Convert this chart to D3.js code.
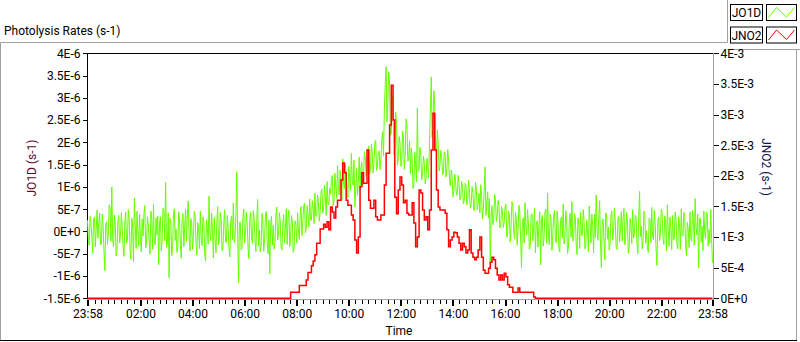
<!DOCTYPE html>
<html>
<head>
<meta charset="utf-8">
<script src="https://cdn.jsdelivr.net/npm/d3@7"></script>
<style>
body { margin: 0; background: #fff; }
svg text { font-family: Roboto, "Noto Sans", sans-serif; font-size: 12px; }
</style>
</head>
<body>
<div id="chart"></div>
<script>
// both series start at 23:58 and run to 23:58 the next day
var startTime = "23:58";
var jo1dStepMinutes = 2;
var jno2StepMinutes = 4;

// JO1D in units of 1E-7 s-1, one value every 2 minutes
var jo1d = [
	2.5,-2.0, -3.1,3.4, 1.8,-1.2, -4.9,2.7, 3.2,-3.5, 0.4,4.8, -1.5,2.1, 4.1,-3.0, -2.8,3.9, 1.0,-4.4, -8.8,1.6, 2.2,-2.9, -0.6,6.0, 5.3,-2.2, 10.0,-1.8, -3.4,3.7, 1.7,-5.5, -4.2,2.3, 3.6,-2.6, -1.1,4.2,
	0.9,-3.6, -5.6,2.2, 4.4,-2.7, -2.0,4.9, 2.9,-4.1, -6.3,3.0, 1.2,-6.8, 7.5,1.4, -3.8,4.5, 0.2,-3.2, 3.9,-1.5, -4.6,2.8, -1.0,4.0, 5.8,-3.7, -2.5,3.3, 1.5,-1.9, -5.1,4.6, 2.6,-4.0, 6.2,-2.4, -3.0,3.1,
	-0.8,3.5, -7.5,1.9, 3.3,-4.3, -1.9,5.2, 4.7,-2.1, 11.0,-3.6, -2.6,4.2, -10.4,3.0, 2.0,-5.4, -4.0,3.8, 5.1,-2.0, 0.6,-4.7, -3.5,4.4, 2.8,-3.1, -6.0,2.5, 4.0,-3.4, 1.3,5.0, -2.2,3.7, 6.8,-1.0, -4.4,2.9,
	1.9,-4.0, -1.2,4.5, 3.7,-2.5, -5.3,2.0, 0.5,-3.8, 4.6,-1.4, -3.2,3.3, 2.4,-4.9, -6.7,2.6, 1.1,-2.8, 7.9,-0.5, -2.1,4.1, 0.0,-5.9, 3.1,-1.7, -4.8,2.2, 5.6,-3.0, -1.6,4.3, 2.7,-4.4, -3.9,1.8, 4.9,-2.3,
	-2.4,3.6, 0.8,-3.9, -5.7,2.4, 3.5,-1.8, 6.4,-2.5, -1.3,4.0, 13.4,-0.6, -11.5,1.9, 2.1,-4.1, -3.6,3.2, 5.0,-2.6, -0.4,4.4, 1.6,-3.7, -6.1,2.8, 4.3,-1.2, -2.7,4.7, 3.0,-2.0, -4.5,2.5, 7.2,-3.3, 0.3,-4.6,
	-3.3,4.1, 2.3,-4.4, -1.7,3.9, 4.5,-2.2, -5.0,2.6, -9.5,1.5, 3.4,-3.1, 1.4,-4.0, -2.3,3.7, 5.5,-1.9, -0.9,4.2, 2.6,-3.5, -4.1,1.8, 3.8,-2.6, 0.7,5.1, -2.9,2.9, 4.8,-3.4, -1.4,3.6, 2.0,-4.7, -3.7,2.4,
	1.5,-2.6, 4.2,0.2, -1.8,3.9, 5.6,-0.9, 2.1,5.5, 6.4,-0.3, 0.8,5.8, 3.9,1.0, 7.3,2.6, 2.5,6.9, 5.1,1.8, 8.6,3.5, 3.4,8.2, 6.7,2.3, 4.2,8.9, 9.5,4.1, 5.0,10.3, 7.8,3.6, 11.2,6.4, 6.0,9.8,
	8.4,11.9, 12.6,5.8, 6.9,13.1, 10.3,7.4, 14.8,9.6, 8.2,13.8, 11.5,7.0, 16.3,10.9, 9.7,15.1, 13.0,8.3, 7.6,14.6, 12.1,9.2, 17.5,11.6, 10.4,16.0, 5.5,9.5, 14.2,8.1, 11.0,16.7, 9.8,14.4, 15.6,10.2, 12.3,17.9,
	16.8,12.4, 13.5,18.3, 19.2,12.8, 14.0,19.6, 17.6,13.1, 15.2,19.9, 20.5,13.7, 14.6,17.8, 18.1,13.9, 16.0,20.7, 22.4,17.0, 27.5,33.0, 37.0,24.6, 29.0,35.8, 33.5,21.5, 22.0,30.5, 28.4,17.2, 19.5,26.8, 24.0,14.9, 16.5,21.3,
	19.8,14.6, 15.2,22.5, 21.0,13.9, 17.4,25.3, 24.0,15.8, 16.1,20.4, 13.0,18.7, 16.5,9.6, 10.5,17.8, 15.0,11.2, 27.7,13.5, 14.0,18.9, 17.2,11.6, 12.8,16.9, 15.5,10.7, 11.9,16.4, 14.3,12.0, 20.0,27.3, 34.7,21.1, 24.0,31.6,
	28.5,19.4, 17.0,22.8, 19.5,13.6, 14.8,18.2, 16.9,12.7, 13.2,17.9, 17.6,12.2, 14.1,18.4, 15.8,11.9, 10.2,13.8, 12.5,7.7, 9.0,12.9, 11.4,8.1, 8.3,12.6, 10.9,7.1, 7.6,11.3, 9.8,6.2, 6.9,10.8, 10.4,6.0, 7.2,11.5,
	9.1,5.2, 6.0,10.1, 8.8,4.7, 5.4,11.0, 9.5,4.9, 6.3,8.6, 4.2,10.5, 8.0,2.8, 5.1,9.2, 14.5,3.6, 6.6,8.9, 3.0,7.4, -8.0,3.9, 5.8,1.5, 2.9,8.3, 7.1,2.2, 3.5,7.0, 5.9,0.8, 1.2,5.6, 4.6,0.9,
	2.0,5.5, 6.2,-1.3, -0.5,4.6, 3.7,-2.4, 1.4,6.7, 5.8,0.1, -1.6,4.3, 2.9,-3.1, 0.3,5.9, 4.4,-1.9, -8.2,2.0, 3.1,-2.6, 6.5,1.1, -0.8,4.9, 1.8,-4.0, -3.4,3.6, 4.0,-2.1, 0.6,5.2, -4.8,1.5, 2.4,-3.5,
	1.3,4.4, -7.5,2.6, 3.6,-3.3, -1.2,4.5, 5.0,-2.7, 8.6,-1.0, -3.0,3.9, 2.7,-4.2, -0.7,3.4, 4.8,-2.0, -2.5,4.6, 1.9,-3.6, -4.6,2.5, 3.3,-1.5, 6.1,-2.8, -1.4,4.7, 2.2,-4.9, -3.8,2.1, 4.1,-1.3, 6.7,-2.2,
	-2.0,4.0, 3.0,-2.9, -5.2,3.1, 1.6,-3.8, 4.3,-0.6, -1.0,4.9, 2.5,-3.9, -3.3,2.6, 0.4,-4.5, 5.7,1.7, -2.6,3.9, 1.1,-4.8, 3.8,-1.4, 8.2,0.9, -2.0,3.4, 6.9,-3.2, -8.1,2.4, 2.8,-2.2, -6.4,4.2, 3.5,-1.7,
	1.0,-4.1, -3.1,3.7, 4.6,-2.0, -0.3,5.3, 2.2,-3.5, -4.0,2.8, 3.4,-2.4, 0.8,4.5, -2.1,3.1, 5.2,-3.0, -1.1,4.3, 2.4,-4.9, -3.6,2.9, 1.7,-2.7, 4.9,-1.5, -0.6,3.6, 3.0,-2.8, -5.0,3.4, 9.0,-1.1, 1.2,-3.9,
	-2.3,4.6, 3.9,-2.6, 0.1,-3.4, -4.7,3.0, 2.6,-2.5, 5.4,-1.2, -1.8,4.8, 1.4,-3.9, -7.6,2.3, 3.2,-2.1, -0.5,5.0, 4.1,-1.6, -2.9,3.5, 2.0,-4.4, 6.0,0.4, -3.3,3.2, 0.9,-4.1, 3.6,-1.9, -1.5,4.4, 2.7,-3.0,
	-3.9,3.3, 1.8,-4.0, 5.1,-0.7, -1.0,4.3, 3.3,-2.9, -5.4,2.1, 0.6,-3.6, 4.4,-1.4, -2.2,4.7, 2.9,-3.1, 7.4,1.0, -0.8,3.9, -8.2,2.5, 3.1,-2.4, 1.2,-4.3, 4.6,-0.2, -1.6,4.4, 3.8,-3.3, 0.4,-2.6, 5.0,-1.8,
	-7.0
];

// JNO2 in units of 1E-3 s-1, one value every 4 minutes
var jno2 = [
	0, 0, 0, 0, 0, 0, 0, 0, 0, 0, 0, 0, 0, 0, 0, 0, 0, 0, 0, 0,
	0, 0, 0, 0, 0, 0, 0, 0, 0, 0, 0, 0, 0, 0, 0, 0, 0, 0, 0, 0,
	0, 0, 0, 0, 0, 0, 0, 0, 0, 0, 0, 0, 0, 0, 0, 0, 0, 0, 0, 0,
	0, 0, 0, 0, 0, 0, 0, 0, 0, 0, 0, 0, 0, 0, 0, 0, 0, 0, 0, 0,
	0, 0, 0, 0, 0, 0, 0, 0, 0, 0, 0, 0, 0, 0, 0, 0, 0, 0, 0, 0,
	0, 0, 0, 0, 0, 0, 0, 0, 0, 0, 0, 0, 0, 0, 0, 0, 0, 0.10, 0.10, 0.10,
	0.10, 0.10, 0.21, 0.21, 0.21, 0.21, 0.30, 0.42, 0.42, 0.53, 0.61, 0.71, 0.90, 0.90, 1.13, 1.13, 1.21, 1.16, 1.25, 1.12,
	1.49, 1.41, 1.31, 1.49, 1.60, 1.60, 1.93, 2.21, 2.05, 1.60, 1.52, 1.52, 1.36, 1.28, 0.95, 0.74, 1.00, 1.82, 2.05, 1.88,
	1.88, 2.42, 1.60, 1.47, 1.47, 1.60, 1.33, 1.28, 1.28, 1.36, 1.36, 1.85, 2.37, 2.37, 2.83, 3.48, 2.91, 1.65, 1.38, 1.77,
	1.98, 1.85, 1.56, 1.60, 1.39, 1.36, 1.36, 1.56, 1.23, 0.84, 1.00, 1.77, 1.72, 1.44, 1.28, 1.33, 1.12, 1.44, 2.42, 3.02,
	2.42, 1.77, 1.49, 1.44, 1.44, 1.44, 1.39, 1.12, 0.84, 0.95, 1.00, 1.08, 1.07, 1.00, 0.90, 0.79, 0.90, 0.84, 0.74, 0.79,
	1.12, 0.74, 0.67, 0.63, 0.67, 0.79, 1.00, 0.67, 0.46, 0.41, 0.41, 0.49, 0.59, 0.67, 0.63, 0.49, 0.38, 0.30, 0.38, 0.30,
	0.41, 0.35, 0.22, 0.18, 0.18, 0.10, 0.10, 0.10, 0.17, 0.10, 0.10, 0.10, 0.10, 0.10, 0.10, 0.10, 0.10, 0.02, 0, 0,
	0, 0, 0, 0, 0, 0, 0, 0, 0, 0, 0, 0, 0, 0, 0, 0, 0, 0, 0, 0,
	0, 0, 0, 0, 0, 0, 0, 0, 0, 0, 0, 0, 0, 0, 0, 0, 0, 0, 0, 0,
	0, 0, 0, 0, 0, 0, 0, 0, 0, 0, 0, 0, 0, 0, 0, 0, 0, 0, 0, 0,
	0, 0, 0, 0, 0, 0, 0, 0, 0, 0, 0, 0, 0, 0, 0, 0, 0, 0, 0, 0,
	0, 0, 0, 0, 0, 0, 0, 0, 0, 0, 0, 0, 0, 0, 0, 0, 0, 0, 0, 0,
	0
];

var jo1dTicks = [4e-6, 3.5e-6, 3e-6, 2.5e-6, 2e-6, 1.5e-6, 1e-6, 5e-7, 0, -5e-7, -1e-6, -1.5e-6];
var jo1dTickLabels = ["4E-6", "3.5E-6", "3E-6", "2.5E-6", "2E-6", "1.5E-6", "1E-6", "5E-7", "0E+0", "-5E-7", "-1E-6", "-1.5E-6"];
var jno2Ticks = [4e-3, 3.5e-3, 3e-3, 2.5e-3, 2e-3, 1.5e-3, 1e-3, 5e-4, 0];
var jno2TickLabels = ["4E-3", "3.5E-3", "3E-3", "2.5E-3", "2E-3", "1.5E-3", "1E-3", "5E-4", "0E+0"];
var timeTickLabels = ["23:58", "02:00", "04:00", "06:00", "08:00", "10:00", "12:00", "14:00", "16:00", "18:00", "20:00", "22:00", "23:58"];
var legendNames = ["JO1D", "JNO2"];

var colors = ["#66ff00", "#ff0000"];
var width = 800, height = 342;

var svg = d3.select("#chart").append("svg").attr("width", width).attr("height", height);

var hm = startTime.split(":");
var t0 = new Date(2000, 0, 1, +hm[0], +hm[1]);
var t1 = d3.timeDay.offset(t0, 1);
var jo1dTimes = jo1d.map((d, i) => d3.timeMinute.offset(t0, i * jo1dStepMinutes));
var jno2Times = jno2.map((d, i) => d3.timeMinute.offset(t0, i * jno2StepMinutes));

var tickDates = timeTickLabels.map(function(s, i) {
	if (i == 0) return t0;
	if (i == timeTickLabels.length - 1) return t1;
	var p = s.split(":");
	return new Date(2000, 0, 2, +p[0], +p[1]);
});

var x = d3.scaleTime().domain([t0, t1]).range([87.5, 712.5]);
var yL = d3.scaleLinear().domain([-1.5e-6, 4e-6]).range([298.3, 53.3]);
var yR = d3.scaleLinear().domain([0, 4e-3]).range([298.3, 53.3]);

// frame
svg.append("path")
	.attr("d", "M0.5,341 V42.5 H727.5 V0 M727.5,49.5 H800 M796.5,49.5 V341")
	.style("fill", "none").style("stroke", "#a0a0a0");
svg.append("line").attr("x1", 0).attr("x2", 797).attr("y1", 340.5).attr("y2", 340.5)
	.style("stroke", "#000");

svg.append("text").attr("x", 4).attr("y", 35).text("Photolysis Rates (s-1)");

// plot area borders
svg.append("path")
	.attr("d", "M87.5,298.5 V53.5 H713")
	.style("fill", "none").style("stroke", "#000").style("shape-rendering", "crispEdges");
svg.append("path")
	.attr("d", "M713.5,53 V299.5 H87")
	.style("fill", "none").style("stroke", "#a0a0a0").style("shape-rendering", "crispEdges");

// axes
var axL = svg.append("g").attr("transform", "translate(87.5,0)")
	.call(d3.axisLeft(yL).tickValues(jo1dTicks).tickFormat((d, i) => jo1dTickLabels[i]).tickSize(5).tickPadding(2));
var axR = svg.append("g").attr("transform", "translate(713.5,0)")
	.call(d3.axisRight(yR).tickValues(jno2Ticks).tickFormat((d, i) => jno2TickLabels[i]).tickSize(5).tickPadding(2));
var axMinor = svg.append("g").attr("transform", "translate(0,300)")
	.call(d3.axisBottom(x).tickValues(d3.timeMinute.every(15).range(t0, t1)).tickFormat("").tickSize(4));
var axB = svg.append("g").attr("transform", "translate(0,300)")
	.call(d3.axisBottom(x).tickValues(tickDates).tickFormat((d, i) => timeTickLabels[i]).tickSize(6).tickPadding(3));

[axL, axR, axMinor, axB].forEach(function(a) {
	a.select(".domain").remove();
	a.selectAll("line").style("stroke", "#000").style("shape-rendering", "crispEdges");
	a.selectAll("text").style("font-family", "Roboto, sans-serif").style("font-size", "12px").style("fill", "#000");
});
axB.selectAll("line").style("stroke-width", 2);

svg.append("text").attr("transform", "translate(36,168) rotate(-90)")
	.attr("text-anchor", "middle").style("fill", "#5a0a2a").text("JO1D (s-1)");
svg.append("text").attr("transform", "translate(762,167) rotate(90)")
	.attr("text-anchor", "middle").style("fill", "#101050").text("JNO2 (s-1)");
svg.append("text").attr("x", 399).attr("y", 335).attr("text-anchor", "middle").text("Time");

// series
var lineL = d3.line().x((d, i) => x(jo1dTimes[i])).y(d => yL(d * 1e-7));
var lineR = d3.line().curve(d3.curveStepAfter).x((d, i) => x(jno2Times[i])).y(d => yR(d * 1e-3));

svg.append("path").datum(jo1d).attr("d", lineL)
	.style("fill", "none").style("stroke", colors[0]).style("stroke-width", 1);
svg.append("path").datum(jno2).attr("d", lineR)
	.style("fill", "none").style("stroke", colors[1]).style("stroke-width", 1.5);

// legend
var leg = svg.append("g").selectAll("g")
	.data(legendNames)
	.enter().append("g")
		.attr("transform", (d, i) => "translate(730.5," + (4.5 + i * 22.5) + ")");
leg.append("rect").attr("width", 32).attr("height", 16)
	.style("fill", "#fff").style("stroke", "#000");
leg.append("text").attr("x", 16).attr("y", 12.5).attr("text-anchor", "middle").text(d => d);
leg.append("rect").attr("x", 36).attr("width", 30).attr("height", 16)
	.style("fill", "#fff").style("stroke", "#000");
leg.append("path")
	.attr("d", "M38,13 L46,3 L56,12.5 L64,3")
	.style("fill", "none")
	.style("stroke", (d, i) => colors[i]);
</script>
</body>
</html>
